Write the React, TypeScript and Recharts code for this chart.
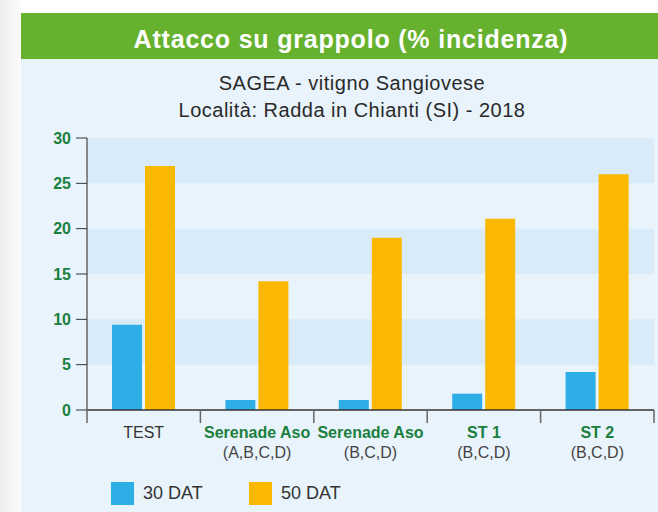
import { Bar, BarChart, Legend, ReferenceArea, XAxis, YAxis } from "recharts";

const categories = ["TEST", "Serenade Aso", "Serenade Aso", "ST 1", "ST 2"];
const subLabels = ["", "(A,B,C,D)", "(B,C,D)", "(B,C,D)", "(B,C,D)"];
const dat30 = [9.4, 1.1, 1.1, 1.8, 4.2];
const dat50 = [26.9, 14.2, 19.0, 21.1, 26.0];
const yTicks = [0, 5, 10, 15, 20, 25, 30];
const bandStarts = [5, 15, 25];
const bandEnds = [10, 20, 30];

const seriesNames = ["30 DAT", "50 DAT"];
const seriesColors = ["#2daee6", "#fbb800"];

const data = categories.map((name, i) => ({
  name,
  sub: subLabels[i],
  d30: dat30[i],
  d50: dat50[i],
}));

const W = 658;
const H = 512;
const PLOT_LEFT = 87;
const PLOT_RIGHT = 654;
const PLOT_TOP = 138;
const PLOT_BOTTOM = 410;
const BAND = (PLOT_RIGHT - PLOT_LEFT) / categories.length;
const FONT = '"Liberation Sans", Arial, Helvetica, sans-serif';
const GREEN_TEXT = "#1b7f3d";

function CategoryTick(props: any) {
  const { x, payload, index } = props;
  const i = typeof index === "number" ? index : categories.indexOf(payload.value);
  const isTest = i === 0;
  const half = BAND / 2;
  return (
    <g>
      <line x1={x - half} x2={x - half} y1={PLOT_BOTTOM} y2={PLOT_BOTTOM + 13} stroke="#666" strokeWidth={1.5} />
      {i === categories.length - 1 && (
        <line x1={x + half} x2={x + half} y1={PLOT_BOTTOM} y2={PLOT_BOTTOM + 13} stroke="#666" strokeWidth={1.5} />
      )}
      <text
        x={x}
        y={PLOT_BOTTOM + 28}
        textAnchor="middle"
        fontFamily={FONT}
        fontSize={16}
        fontWeight={isTest ? 400 : 700}
        fill={isTest ? "#333" : GREEN_TEXT}
      >
        {payload.value}
      </text>
      {subLabels[i] && (
        <text x={x} y={PLOT_BOTTOM + 48} textAnchor="middle" fontFamily={FONT} fontSize={16} fill="#444">
          {subLabels[i]}
        </text>
      )}
    </g>
  );
}

function LegendBox() {
  return (
    <div style={{ display: "flex", alignItems: "center", fontFamily: FONT, fontSize: 18, color: "#333" }}>
      {seriesNames.map((n, i) => (
        <div key={n} style={{ display: "flex", alignItems: "center", width: 138 }}>
          <span style={{ display: "inline-block", width: 23, height: 23, background: seriesColors[i], marginRight: 9 }} />
          <span>{n}</span>
        </div>
      ))}
    </div>
  );
}

export default function App() {
  return (
    <div style={{ position: "fixed", left: 0, top: 0, width: W, height: H, background: "#fff" }}>
      <svg width={W} height={H} style={{ position: "absolute", left: 0, top: 0 }}>
        <defs>
          <linearGradient id="edge" x1="0" x2="1" y1="0" y2="0">
            <stop offset="0" stopColor="#eeeeee" />
            <stop offset="1" stopColor="#fbfbfb" />
          </linearGradient>
        </defs>
        <rect x={0} y={0} width={21} height={H} fill="url(#edge)" />
        <rect x={21} y={13} width={W - 21} height={46} fill="#66b22f" />
        <rect x={21} y={59} width={W - 21} height={H - 59} fill="#e9f3fc" />
        <text x={351} y={48} textAnchor="middle" fontFamily={FONT} fontSize={25} fontWeight={700} letterSpacing={0.8} fill="#fff">
          Attacco su grappolo (% incidenza)
        </text>
        <text x={352} y={90} textAnchor="middle" fontFamily={FONT} fontSize={20} letterSpacing={0.5} fill="#2a2a2a">
          SAGEA - vitigno Sangiovese
        </text>
        <text x={352} y={117} textAnchor="middle" fontFamily={FONT} fontSize={20} letterSpacing={0.5} fill="#2a2a2a">
          Località: Radda in Chianti (SI) - 2018
        </text>
      </svg>
      <div style={{ position: "absolute", left: 0, top: 0 }}>
        <BarChart
          width={W}
          height={H}
          data={data}
          margin={{ top: PLOT_TOP, right: W - PLOT_RIGHT, bottom: H - PLOT_BOTTOM - 30, left: PLOT_LEFT - 60 }}
          barGap={3}
          barCategoryGap={25}
        >
          {bandStarts.map((s, i) => (
            <ReferenceArea key={s} y1={s} y2={bandEnds[i]} fill="#d9eaf8" fillOpacity={1} stroke="none" ifOverflow="visible" />
          ))}
          <XAxis
            dataKey="name"
            height={30}
            tick={<CategoryTick />}
            tickLine={false}
            axisLine={{ stroke: "#333", strokeWidth: 1.5 }}
            interval={0}
          />
          <YAxis
            width={60}
            domain={[0, 30]}
            ticks={yTicks}
            interval={0}
            tickSize={11}
            tickMargin={5}
            tick={{ fill: GREEN_TEXT, fontSize: 16, fontWeight: 700, fontFamily: FONT }}
            tickLine={{ stroke: "#333" }}
            axisLine={{ stroke: "#666", strokeWidth: 1.5 }}
          />
          <Legend
            layout="horizontal"
            verticalAlign="middle"
            align="center"
            wrapperStyle={{ position: "absolute", left: 111, top: 482, width: 320, height: 24 }}
            content={() => <LegendBox />}
          />
          <Bar dataKey="d30" name={seriesNames[0]} fill={seriesColors[0]} barSize={30} isAnimationActive={false} />
          <Bar dataKey="d50" name={seriesNames[1]} fill={seriesColors[1]} barSize={30} isAnimationActive={false} />
        </BarChart>
      </div>
    </div>
  );
}
